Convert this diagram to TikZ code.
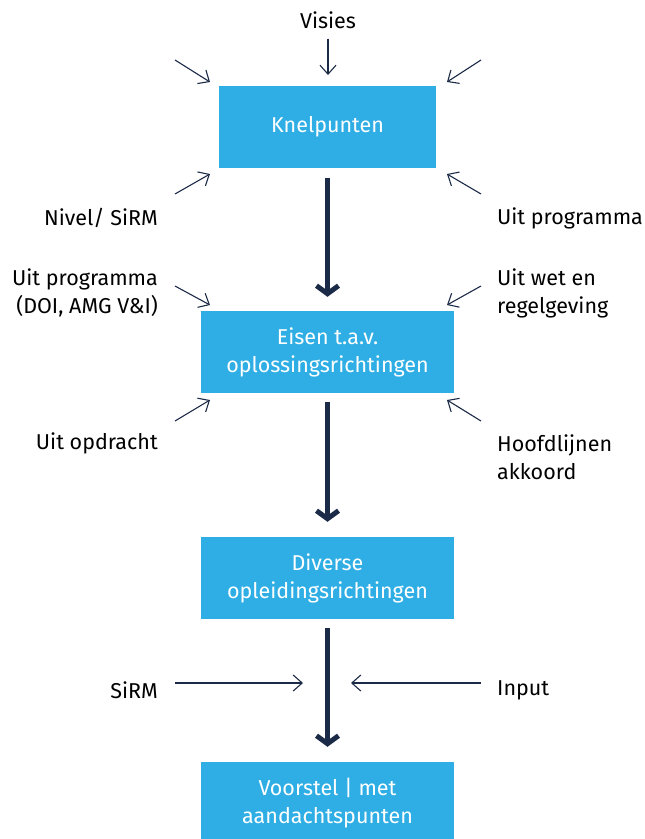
\documentclass[tikz,border=0pt]{standalone}
\usepackage{fontspec}
\setmainfont{Fira Sans}
\usetikzlibrary{arrows.meta,positioning}
\definecolor{stapblauw}{HTML}{2EAEE4}
\definecolor{donkerblauw}{HTML}{1B2A47}
\tikzset{
    stap/.style={fill=stapblauw, text=white, minimum width=253pt, minimum height=82pt, inner sep=0pt, align=center, font=\fontsize{21.5}{28}\selectfont},
    bron/.style={text=black, inner sep=0pt, font=\fontsize{21.5}{28}\selectfont},
    flow/.style={draw=donkerblauw, line width=5pt, -{Straight Barb[length=8pt,width=22pt]}},
    invoer/.style={draw=donkerblauw, line width=1.1pt, -{Straight Barb[length=9pt,width=16pt]}}}

\begin{document}
\begin{tikzpicture}[x=1pt,y=-1pt]
\useasboundingbox (0,0) rectangle (645,839);

%steps
\node[stap, minimum width=217pt] (knel) at (327.5,127) {Knelpunten};
\node[stap] (eisen) at (327.5,352) {Eisen t.a.v.\\oplossingsrichtingen};
\node[stap] (divers) at (327.5,578) {Diverse\\opleidingsrichtingen};
\node[stap] (voorstel) at (327.5,803) {Voorstel | met\\aandachtspunten};
\draw [flow]([yshift=-10pt]knel.south)--([yshift=14pt]eisen.north);
\draw [flow]([yshift=-9pt]eisen.south)--([yshift=15pt]divers.north);
\draw [flow]([yshift=-9pt]divers.south)--([yshift=15pt]voorstel.north);

%first step
\node[bron] (visies) at (328,20) {Visies};
\coordinate (visies1) at (328,75);
\coordinate (kn1) at (175,60);
\coordinate (kn1e) at (210,82);
\coordinate (kn2) at (481,60);
\coordinate (kn2e) at (447,82);
\coordinate (kn3) at (175,194);
\coordinate (kn3e) at (210,174);
\coordinate (kn4) at (481,194);
\coordinate (kn4e) at (447,174);
\node[bron, anchor=east] (nivel) at (158,218) {Nivel/ SiRM};
\node[bron, anchor=west] (prog1) at (497,218) {Uit programma};
\draw [invoer]([yshift=-10pt]visies.south)--(visies1);
\draw [invoer](kn1)--(kn1e);
\draw [invoer](kn2)--(kn2e);
\draw [invoer](kn3)--(kn3e);
\draw [invoer](kn4)--(kn4e);

%second step
\coordinate (ei1) at (175,286);
\coordinate (ei1e) at (210,305);
\coordinate (ei2) at (481,286);
\coordinate (ei2e) at (447,305);
\coordinate (ei3) at (175,421);
\coordinate (ei3e) at (210,400);
\coordinate (ei4) at (481,421);
\coordinate (ei4e) at (447,400);
\node[bron, anchor=east, align=right] (prog2) at (158,293) {Uit programma\\(DOI, AMG V\&I)};
\node[bron, anchor=west, align=left] (wet) at (497,293) {Uit wet en\\regelgeving};
\node[bron, anchor=east] (opdracht) at (158,443) {Uit opdracht};
\node[bron, anchor=west, align=left] (akkoord) at (497,457) {Hoofdlijnen\\akkoord};
\draw [invoer](ei1)--(ei1e);
\draw [invoer](ei2)--(ei2e);
\draw [invoer](ei3)--(ei3e);
\draw [invoer](ei4)--(ei4e);

%third step
\node[bron, anchor=east] (sirm) at (158,690) {SiRM};
\node[bron, anchor=west] (input) at (497,690) {Input};
\coordinate (sirm1) at (175,683);
\coordinate (sirm1e) at (303,683);
\coordinate (input1) at (481,683);
\coordinate (input1e) at (351,683);
\draw [invoer](sirm1)--(sirm1e);
\draw [invoer](input1)--(input1e);
\end{tikzpicture}
\end{document}
